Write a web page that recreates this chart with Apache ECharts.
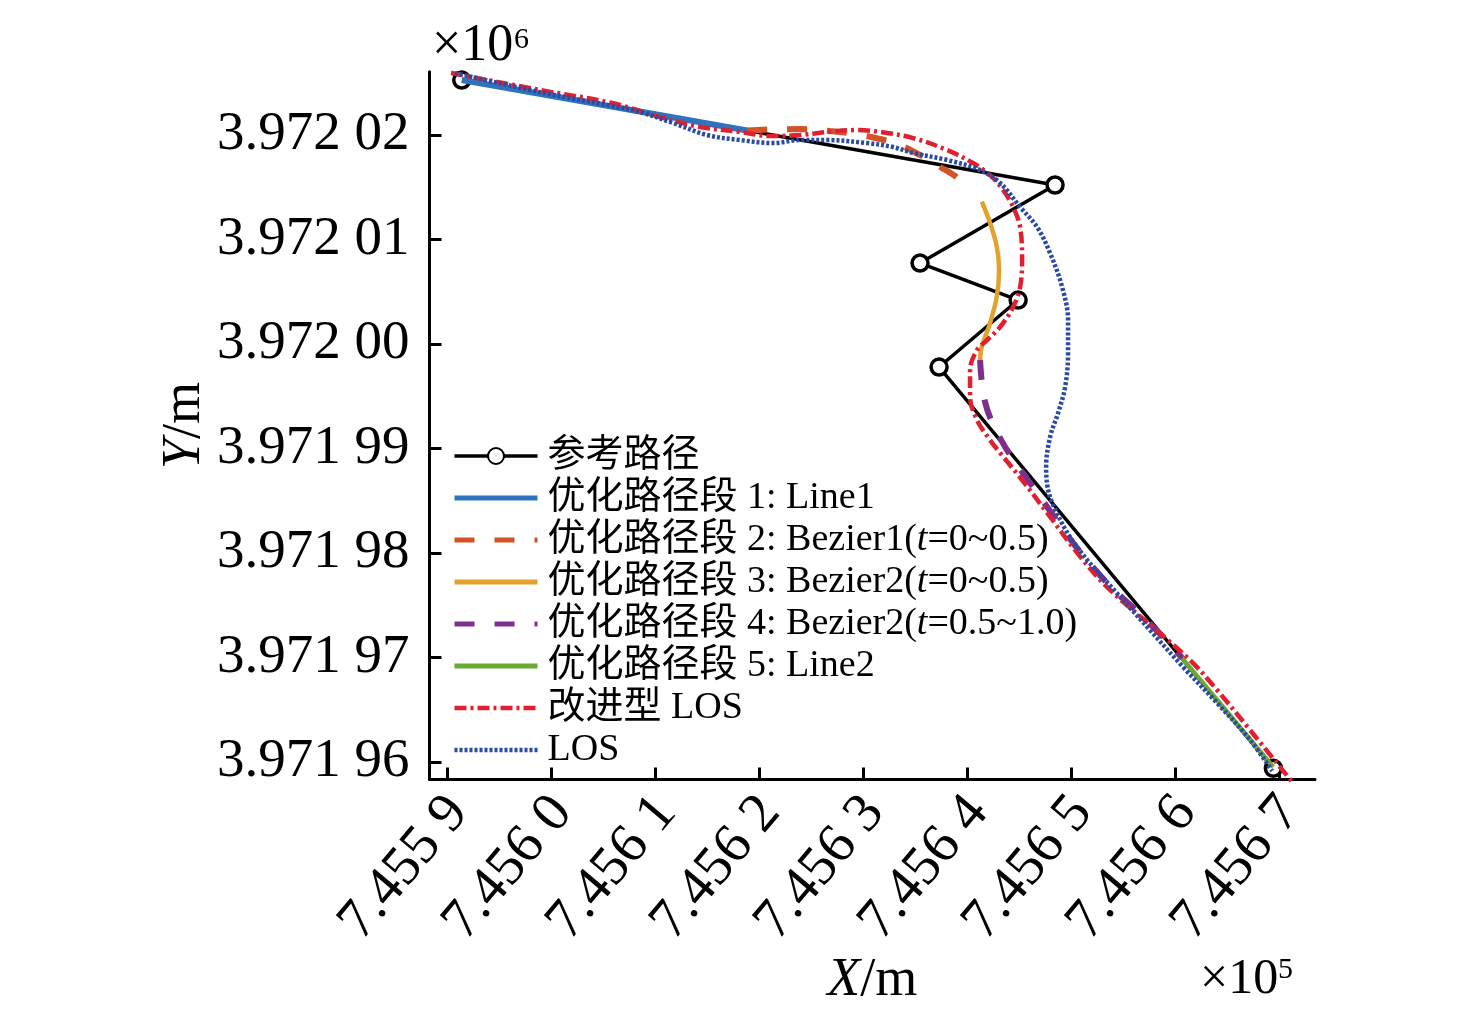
<!DOCTYPE html>
<html>
<head>
<meta charset="utf-8">
<script src="https://cdn.jsdelivr.net/npm/echarts@6/dist/echarts.min.js"></script>
<style>
html, body { margin: 0; padding: 0; background: #fff; }
#chart { width: 1476px; height: 1016px; }
</style>
</head>
<body>
<div id="chart"></div>
<script>
// 路径数据 (X, Y) 单位 m
var refPath = [
    [745591.37, 3972025.26], [745648.41, 3972015.22], [745635.43, 3972007.75],
    [745644.86, 3972004.21], [745637.26, 3971997.80], [745669.40, 3971959.40]
];
var line1Seg = [[745591.37, 3972025.26], [745618.80, 3972020.43]];
var bezier1Seg = [
    [745618.80, 3972020.43], [745621.01, 3972020.53], [745623.89, 3972020.57],
    [745626.78, 3972020.38], [745629.18, 3972020.10], [745631.59, 3972019.62],
    [745633.51, 3972019.04], [745635.43, 3972018.09], [745637.36, 3972016.94],
    [745638.80, 3972016.08], [745639.95, 3972015.12]
];
var bezier2aSeg = [
    [745641.37, 3972013.62], [745642.16, 3972011.58], [745642.81, 3972009.31],
    [745643.03, 3972007.08], [745642.81, 3972004.53], [745642.16, 3972002.01],
    [745641.37, 3971999.74], [745641.20, 3971998.47]
];
var bezier2bSeg = [
    [745641.20, 3971998.47], [745641.35, 3971996.56], [745641.68, 3971994.45],
    [745642.26, 3971992.73], [745643.13, 3971991.00], [745644.09, 3971989.38],
    [745645.53, 3971987.37], [745646.97, 3971985.36], [745648.41, 3971983.35],
    [745650.82, 3971980.10], [745653.70, 3971976.84], [745656.59, 3971974.16],
    [745658.99, 3971971.77], [745660.63, 3971969.95]
];
var line2Seg = [[745660.63, 3971969.95], [745669.38, 3971959.52]];
var improvedLos = [
    [745590.34, 3972025.93], [745598.89, 3972024.31], [745605.82, 3972023.06],
    [745610.43, 3972021.72], [745614.28, 3972020.77], [745618.13, 3972020.29],
    [745621.01, 3972019.90], [745623.89, 3972020.00], [745626.49, 3972020.29],
    [745629.38, 3972020.48], [745631.59, 3972020.29], [745634.76, 3972019.71],
    [745638.03, 3972018.56], [745640.53, 3972017.32], [745642.16, 3972016.17],
    [745643.41, 3972014.74], [745644.38, 3972013.11], [745645.05, 3972011.20],
    [745645.24, 3972008.04], [745645.05, 3972005.45], [745644.38, 3972003.54],
    [745643.13, 3972001.63], [745641.88, 3972000.38], [745640.91, 3971999.43],
    [745640.24, 3971997.51], [745640.24, 3971994.93], [745640.91, 3971992.73],
    [745642.16, 3971990.81], [745643.22, 3971989.47], [745645.24, 3971986.99],
    [745647.74, 3971983.73], [745650.63, 3971979.90], [745653.51, 3971976.65],
    [745658.70, 3971972.15], [745661.68, 3971969.47], [745663.99, 3971966.89],
    [745667.16, 3971963.06], [745671.20, 3971958.09]
];
var losPath = [
    [745590.72, 3972025.93], [745598.89, 3972024.11], [745605.82, 3972022.78],
    [745608.51, 3972022.20], [745611.68, 3972021.15], [745614.95, 3972020.00],
    [745618.13, 3972019.52], [745621.30, 3972019.23], [745623.89, 3972019.52],
    [745626.49, 3972019.52], [745630.34, 3972019.23], [745632.84, 3972018.85],
    [745634.76, 3972018.28], [745638.03, 3972017.61], [745641.20, 3972016.65],
    [745643.13, 3972015.41], [745645.05, 3972013.11], [745646.68, 3972011.20],
    [745647.93, 3972008.71], [745649.09, 3972005.45], [745649.66, 3972002.30],
    [745649.66, 3971999.14], [745649.38, 3971995.89], [745648.70, 3971993.40],
    [745647.93, 3971991.10], [745647.55, 3971988.23], [745647.74, 3971986.03],
    [745648.32, 3971984.40], [745649.66, 3971981.82], [745651.59, 3971979.23],
    [745654.18, 3971976.36], [745657.36, 3971972.82], [745660.72, 3971969.09],
    [745663.99, 3971965.65], [745667.16, 3971962.11], [745669.28, 3971959.14]
];
var xTicks = [745590, 745600, 745610, 745620, 745630, 745640, 745650, 745660, 745670];
var yTicks = [3971960, 3971970, 3971980, 3971990, 3972000, 3972010, 3972020];
var seriesNames = [
    '参考路径',
    '优化路径段 1: Line1',
    '优化路径段 2: Bezier1(t=0~0.5)',
    '优化路径段 3: Bezier2(t=0~0.5)',
    '优化路径段 4: Bezier2(t=0.5~1.0)',
    '优化路径段 5: Line2',
    '改进型 LOS',
    'LOS'
];

var serif = "'Liberation Serif', 'Noto Sans CJK SC', serif";
var chart = echarts.init(document.getElementById('chart'));

function seg(name, data, color, width, type, smooth) {
    return {
        name: name,
        type: 'line',
        data: data,
        symbol: 'none',
        smooth: smooth ? 0.35 : false,
        lineStyle: { color: color, width: width, type: type },
        itemStyle: { color: color },
        z: 3
    };
}

var series = [
    {
        name: seriesNames[0],
        type: 'line',
        data: refPath,
        symbol: 'circle',
        symbolSize: 16,
        lineStyle: { color: '#000', width: 3.5 },
        itemStyle: { color: '#fff', borderColor: '#000', borderWidth: 3.5 },
        z: 2
    },
    seg(seriesNames[1], line1Seg, '#2f72bd', 6, 'solid', false),
    seg(seriesNames[2], bezier1Seg, '#d45227', 6, [20, 20], true),
    seg(seriesNames[3], bezier2aSeg, '#e3a12f', 4.5, 'solid', true),
    seg(seriesNames[4], bezier2bSeg, '#7e2f8e', 6, [20, 20], true),
    seg(seriesNames[5], line2Seg, '#6aaa35', 4.5, 'solid', false),
    seg(seriesNames[6], improvedLos, '#e0202e', 4.5, [12, 4, 3, 4], true),
    seg(seriesNames[7], losPath, '#2a4aa5', 4.5, [3, 2], true)
];
series[6].clip = false;
series[6].z = 4;
series[7].z = 5;

var legendWidths = [3.5, 5, 5, 5, 5, 5, 4.5, 4.5];
var legendData = seriesNames.map(function (n, i) {
    var item = { name: n, lineStyle: { width: legendWidths[i] } };
    if (i > 0) item.itemStyle = { opacity: 0 };
    return item;
});

chart.setOption({
    animation: false,
    backgroundColor: '#fff',
    grid: { left: 429.5, top: 71.7, right: 161, bottom: 236.5, outerBoundsMode: 'none' },
    xAxis: {
        type: 'value',
        min: 745588.27,
        max: 745673.4,
        name: '{it|X}/m',
        nameLocation: 'middle',
        nameGap: 174,
        nameMoveOverlap: false,
        nameTextStyle: {
            fontFamily: serif, fontSize: 54, color: '#000',
            rich: { it: { fontFamily: serif, fontSize: 54, fontStyle: 'italic', color: '#000' } }
        },
        axisLine: { lineStyle: { color: '#000', width: 3 } },
        axisTick: { inside: true, length: 12, lineStyle: { color: '#000', width: 3 }, customValues: xTicks },
        axisLabel: {
            customValues: xTicks,
            rotate: 50,
            margin: 15,
            verticalAlign: 'top',
            lineHeight: 28,
            color: '#000',
            fontFamily: serif,
            fontSize: 56,
            formatter: function (v) {
                var s = (v / 1e5).toFixed(4);
                return s.slice(0, 5) + ' ' + s.slice(5);
            }
        },
        splitLine: { show: false }
    },
    yAxis: {
        type: 'value',
        min: 3971958.33,
        max: 3972026.06,
        name: '{it|Y}/m',
        nameLocation: 'middle',
        nameGap: 218,
        nameMoveOverlap: false,
        nameRotate: 90,
        nameTextStyle: {
            fontFamily: serif, fontSize: 54, color: '#000',
            rich: { it: { fontFamily: serif, fontSize: 54, fontStyle: 'italic', color: '#000' } }
        },
        axisLine: { lineStyle: { color: '#000', width: 3 } },
        axisTick: { inside: true, length: 12, lineStyle: { color: '#000', width: 3 }, customValues: yTicks },
        axisLabel: {
            customValues: yTicks,
            margin: 20,
            color: '#000',
            fontFamily: serif,
            fontSize: 55,
            formatter: function (v) {
                var s = (v / 1e6).toFixed(5);
                return s.slice(0, 5) + ' ' + s.slice(5);
            }
        },
        splitLine: { show: false }
    },
    legend: {
        orient: 'vertical',
        left: 447,
        top: 432,
        itemWidth: 83,
        itemHeight: 20,
        itemGap: 4,
        data: legendData,
        formatter: function (name) {
            return name.replace('(t=', '({it|t}=');
        },
        textStyle: {
            fontFamily: serif,
            fontSize: 38,
            lineHeight: 36,
            color: '#000',
            padding: [0, 0, 0, 5],
            rich: { it: { fontFamily: serif, fontSize: 38, lineHeight: 36, fontStyle: 'italic', color: '#000' } }
        }
    },
    graphic: [
        { type: 'text', left: 432, top: 20, style: { text: '×10', fontFamily: serif, fontSize: 52, fill: '#000' } },
        { type: 'text', left: 514, top: 25, style: { text: '6', fontFamily: serif, fontSize: 30, fill: '#000' } },
        { type: 'text', left: 1200, top: 955, style: { text: '×10', fontFamily: serif, fontSize: 50, fill: '#000' } },
        { type: 'text', left: 1278, top: 955, style: { text: '5', fontFamily: serif, fontSize: 30, fill: '#000' } }
    ],
    series: series
});
</script>
</body>
</html>
